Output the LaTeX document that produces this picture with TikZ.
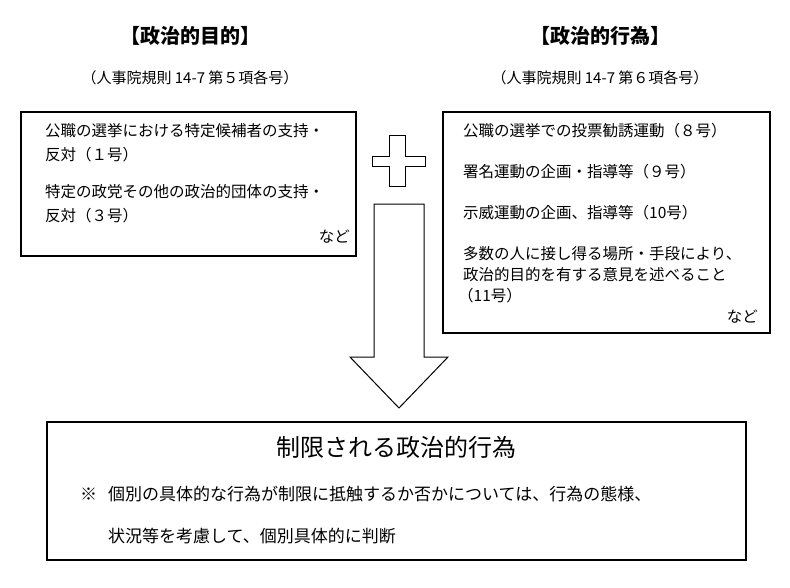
\documentclass[tikz,border=0pt]{standalone}
\usepackage{fontspec}
\setmainfont{Noto Sans CJK JP}
\usetikzlibrary{positioning}
\tikzstyle{frame} = [draw=black, line width=1.2pt, fill=white]
\tikzstyle{txt} = [anchor=west, inner sep=0pt, font=\fontsize{15.5pt}{17pt}\selectfont]
\tikzstyle{head} = [inner sep=0pt, font=\fontsize{20pt}{22pt}\selectfont\bfseries]
\tikzstyle{sub} = [inner sep=0pt, font=\fontsize{15pt}{17pt}\selectfont]
\begin{document}
\begin{tikzpicture}[x=1pt, y=-1pt]

\useasboundingbox (0,0) rectangle (790,587);

% Headings
\node (goal) [head] at (190,36) {【政治的目的】};
\node (goalref) [sub] at (190,78) {（人事院規則 14-7 第５項各号）};
\node (act) [head] at (600,36) {【政治的行為】};
\node (actref) [sub] at (600,78) {（人事院規則 14-7 第６項各号）};

% Boxes
\draw [frame] (21,112) rectangle (356,256);
\draw [frame] (443,112) rectangle (770,333);
\draw [frame] (47,422) rectangle (746,560);

% Left box text
\node (g1) [txt] at (45,131) {公職の選挙における特定候補者の支持・};
\node (g1b) [txt] at (45,155) {反対（１号）};
\node (g2) [txt] at (45,192) {特定の政党その他の政治的団体の支持・};
\node (g2b) [txt] at (45,216) {反対（３号）};
\node (g3) [txt, anchor=east] at (350,237) {など};

% Right box text
\node (a1) [txt] at (463,131) {公職の選挙での投票勧誘運動（８号）};
\node (a2) [txt] at (463,172) {署名運動の企画・指導等（９号）};
\node (a3) [txt] at (463,213) {示威運動の企画、指導等（10号）};
\node (a4) [txt] at (463,254) {多数の人に接し得る場所・手段により、};
\node (a4b) [txt] at (463,275) {政治的目的を有する意見を述べること};
\node (a4c) [txt] at (458,296) {（11号）};
\node (a5) [txt, anchor=east] at (758,317) {など};

% Plus sign
\draw [frame, line width=1pt] (389,135) -- (405,135) -- (405,156) -- (425,156) -- (425,166)
  -- (405,166) -- (405,186) -- (389,186) -- (389,166) -- (372,166) -- (372,156)
  -- (389,156) -- cycle;

% Down arrow
\draw [frame, line width=1pt] (374,204) -- (424,204) -- (424,357) -- (448,357) -- (399,408)
  -- (350,357) -- (374,357) -- cycle;

% Bottom box text
\node (result) [inner sep=0pt, font=\fontsize{24pt}{26pt}\selectfont] at (396,447) {制限される政治的行為};
\node (note) [txt, font=\fontsize{17pt}{19pt}\selectfont] at (80,494) {※};
\node (n1) [txt, font=\fontsize{17pt}{19pt}\selectfont] at (108,494) {個別の具体的な行為が制限に抵触するか否かについては、行為の態様、};
\node (n2) [txt, font=\fontsize{17pt}{19pt}\selectfont] at (108,536) {状況等を考慮して、個別具体的に判断};

\end{tikzpicture}
\end{document}
